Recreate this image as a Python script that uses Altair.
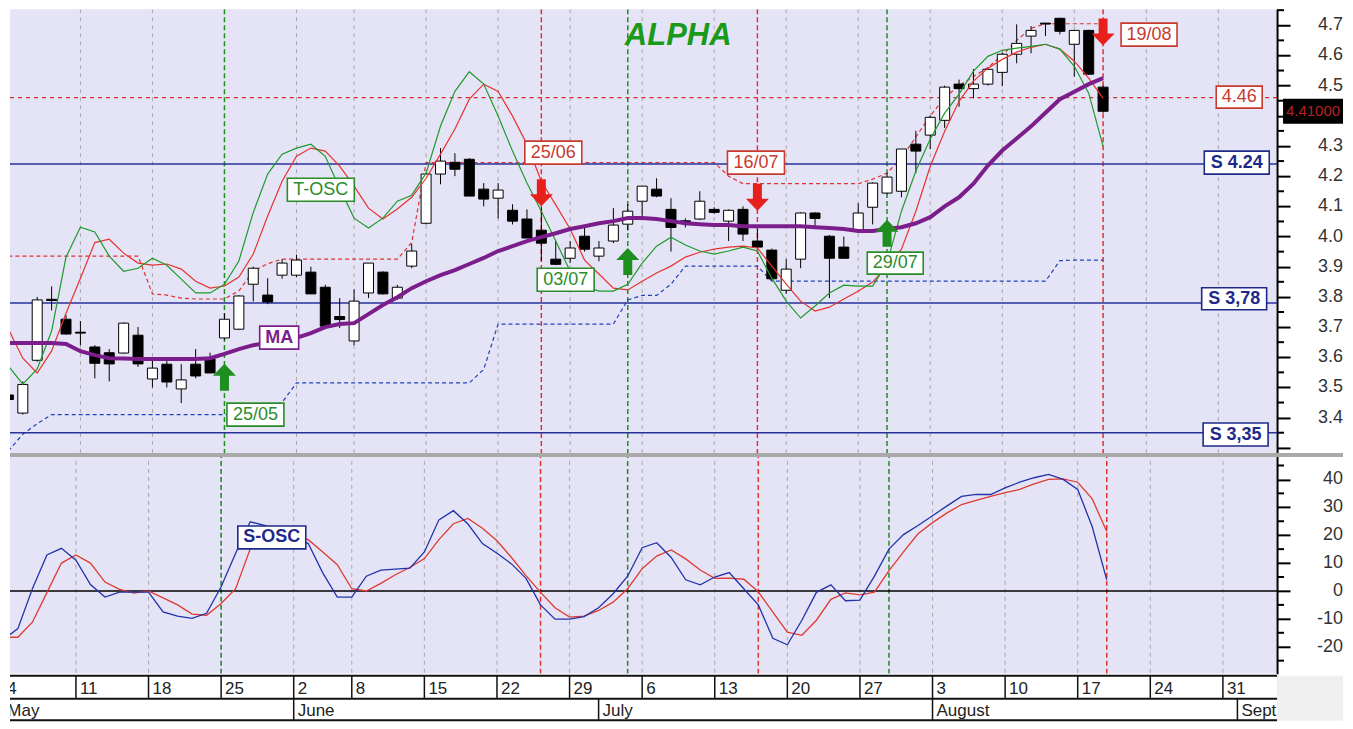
import altair as alt
import pandas as pd

# ---------------- data ----------------
# trading-day index 0 = Mon 4 May 2020
opens = [3.475, 3.415, 3.59, 3.792, 3.726, 3.683, 3.634, 3.615, 3.614, 3.673,
         3.528, 3.577, 3.495, 3.577, 3.594, 3.664, 3.693, 3.842, 3.806, 3.872,
         3.872, 3.882, 3.832, 3.735, 3.654, 3.813, 3.882, 3.796, 3.902, 4.044,
         4.207, 4.246, 4.256, 4.157, 4.127, 4.087, 4.058, 4.021, 3.925, 3.928,
         4.001, 3.935, 3.985, 4.041, 4.117, 4.157, 4.09, 4.052, 4.058, 4.09,
         4.051, 4.09, 3.985, 3.955, 3.822, 3.925, 4.078, 4.001, 3.965, 4.018,
         4.097, 4.144, 4.15, 4.306, 4.336, 4.385, 4.505, 4.49, 4.505, 4.544,
         4.604, 4.664, 4.707, 4.723, 4.637, 4.683, 4.495]
highs = [3.48, 3.52, 3.80, 3.835, 3.74, 3.72, 3.64, 3.627, 3.715, 3.70,
         3.597, 3.60, 3.577, 3.627, 3.615, 3.746, 3.805, 3.90, 3.862, 3.925,
         3.94, 3.90, 3.84, 3.796, 3.825, 3.912, 3.885, 3.84, 3.975, 4.21,
         4.293, 4.276, 4.26, 4.177, 4.177, 4.107, 4.09, 4.10, 3.985, 3.985,
         4.034, 3.985, 4.094, 4.107, 4.167, 4.193, 4.127, 4.06, 4.15, 4.097,
         4.09, 4.10, 4.025, 3.96, 3.925, 4.08, 4.08, 4.005, 4.00, 4.11,
         4.18, 4.21, 4.29, 4.35, 4.40, 4.50, 4.52, 4.555, 4.56, 4.61,
         4.703, 4.697, 4.708, 4.725, 4.685, 4.685, 4.50]
lows = [3.45, 3.41, 3.585, 3.755, 3.675, 3.64, 3.53, 3.52, 3.612, 3.568,
        3.50, 3.50, 3.448, 3.53, 3.548, 3.657, 3.69, 3.785, 3.776, 3.86,
        3.865, 3.81, 3.70, 3.697, 3.64, 3.796, 3.808, 3.79, 3.895, 4.04,
        4.173, 4.20, 4.134, 4.10, 4.06, 4.04, 3.995, 3.92, 3.905, 3.912,
        3.95, 3.918, 3.978, 4.02, 4.068, 4.13, 3.95, 4.03, 4.055, 4.075,
        3.985, 3.985, 3.96, 3.855, 3.81, 3.895, 4.025, 3.796, 3.928, 4.015,
        4.04, 4.14, 4.13, 4.21, 4.29, 4.36, 4.43, 4.458, 4.50, 4.498,
        4.574, 4.607, 4.664, 4.67, 4.53, 4.535, 4.41]
closes = [3.46, 3.51, 3.79, 3.788, 3.677, 3.68, 3.58, 3.578, 3.713, 3.578,
          3.564, 3.518, 3.525, 3.538, 3.548, 3.726, 3.803, 3.895, 3.783, 3.912,
          3.922, 3.81, 3.703, 3.725, 3.786, 3.912, 3.81, 3.832, 3.952, 4.207,
          4.25, 4.223, 4.134, 4.124, 4.154, 4.051, 3.995, 3.978, 3.908, 3.962,
          3.958, 3.962, 4.038, 4.084, 4.167, 4.134, 4.03, 4.048, 4.117, 4.08,
          4.087, 4.008, 3.965, 3.86, 3.892, 4.078, 4.06, 3.928, 3.928, 4.078,
          4.177, 4.197, 4.29, 4.283, 4.395, 4.495, 4.49, 4.505, 4.554, 4.604,
          4.64, 4.683, 4.704, 4.68, 4.683, 4.538, 4.415]
ma_line = [3.647, 3.647, 3.647, 3.647, 3.644, 3.620, 3.607, 3.597, 3.596, 3.594,
           3.594, 3.594, 3.594, 3.594, 3.597, 3.611, 3.627, 3.640, 3.647, 3.654,
           3.664, 3.680, 3.700, 3.710, 3.713, 3.743, 3.773, 3.799, 3.829, 3.852,
           3.872, 3.889, 3.909, 3.929, 3.952, 3.968, 3.985, 3.998, 4.011, 4.025,
           4.034, 4.044, 4.051, 4.061, 4.061, 4.058, 4.051, 4.044, 4.041, 4.038,
           4.038, 4.034, 4.034, 4.034, 4.034, 4.034, 4.031, 4.028, 4.025, 4.018,
           4.018, 4.025, 4.031, 4.044, 4.064, 4.100, 4.130, 4.175, 4.235, 4.285,
           4.325, 4.365, 4.410, 4.455, 4.480, 4.505, 4.525]
tosc_fast = [3.571, 3.511, 3.561, 3.687, 3.932, 4.031, 4.015, 3.935, 3.885, 3.895,
             3.928, 3.905, 3.859, 3.813, 3.813, 3.842, 3.919, 4.080, 4.207, 4.273,
             4.293, 4.306, 4.266, 4.160, 4.061, 4.028, 4.061, 4.117, 4.137, 4.210,
             4.366, 4.481, 4.546, 4.505, 4.399, 4.283, 4.177, 4.084, 3.985, 3.885,
             3.836, 3.819, 3.819, 3.842, 3.912, 3.968, 3.998, 3.972, 3.952, 3.942,
             3.952, 3.965, 3.952, 3.862, 3.786, 3.730, 3.770, 3.813, 3.839, 3.836,
             3.836, 3.912, 4.084, 4.217, 4.323, 4.409, 4.472, 4.548, 4.597, 4.617,
             4.624, 4.630, 4.637, 4.621, 4.564, 4.475, 4.299]
tosc_slow = [3.693, 3.597, 3.548, 3.621, 3.746, 3.862, 3.980, 3.991, 3.945, 3.912,
             3.905, 3.909, 3.892, 3.852, 3.829, 3.836, 3.866, 3.942, 4.068, 4.183,
             4.266, 4.293, 4.283, 4.233, 4.167, 4.094, 4.058, 4.091, 4.130, 4.193,
             4.273, 4.356, 4.455, 4.505, 4.481, 4.399, 4.306, 4.183, 4.105, 4.025,
             3.922, 3.876, 3.829, 3.823, 3.852, 3.879, 3.902, 3.932, 3.948, 3.958,
             3.965, 3.968, 3.962, 3.902, 3.842, 3.786, 3.753, 3.766, 3.793, 3.819,
             3.849, 3.902, 3.958, 4.084, 4.233, 4.349, 4.448, 4.515, 4.558, 4.587,
             4.611, 4.627, 4.637, 4.621, 4.581, 4.525, 4.458]
upper_band = [3.935, 3.935, 3.935, 3.935, 3.935, 3.935, 3.935, 3.935, 3.935, 3.935,
              3.81, 3.806, 3.796, 3.793, 3.793, 3.793, 3.82, 3.885, 3.91, 3.925,
              3.925, 3.925, 3.925, 3.925, 3.925, 3.925, 3.925, 3.925, 3.98, 4.245,
              4.245, 4.245, 4.245, 4.245, 4.245, 4.245, 4.245, 4.245, 4.245, 4.245,
              4.245, 4.245, 4.245, 4.245, 4.245, 4.245, 4.245, 4.245, 4.245, 4.245,
              4.20, 4.175, 4.175, 4.175, 4.175, 4.175, 4.175, 4.175, 4.175, 4.175,
              4.19, 4.21, 4.26, 4.33, 4.40, 4.46, 4.50, 4.53, 4.56, 4.60,
              4.65, 4.69, 4.705, 4.705, 4.705, 4.705, 4.705]
lower_band = [3.29, 3.345, 3.38, 3.41, 3.41, 3.41, 3.41, 3.41, 3.41, 3.41,
              3.41, 3.41, 3.41, 3.41, 3.41, 3.41, 3.41, 3.41, 3.41, 3.45,
              3.515, 3.515, 3.515, 3.515, 3.515, 3.515, 3.515, 3.515, 3.515, 3.515,
              3.515, 3.515, 3.515, 3.56, 3.71, 3.71, 3.71, 3.71, 3.71, 3.71,
              3.71, 3.71, 3.71, 3.79, 3.805, 3.805, 3.842, 3.902, 3.902, 3.902,
              3.902, 3.902, 3.902, 3.852, 3.852, 3.852, 3.852, 3.852, 3.852, 3.852,
              3.852, 3.852, 3.852, 3.852, 3.852, 3.852, 3.852, 3.852, 3.852, 3.852,
              3.852, 3.852, 3.852, 3.92, 3.922, 3.922, 3.922]
sosc_fast = [-17.5, -13.5, 0.8, 12.9, 15.3, 11.0, 2.3, -2.2, -0.4, -0.4,
             -0.4, -7.5, -9.0, -9.8, -8.0, 1.5, 13.5, 24.8, 23.5, 21.5,
             19.5, 17.0, 6.5, -2.2, -2.2, 5.3, 7.5, 7.8, 8.2, 14.0,
             25.5, 28.8, 24.0, 17.0, 13.5, 9.7, 4.5, -5.0, -10.1, -10.1,
             -9.2, -6.0, -1.0, 5.3, 15.5, 17.3, 12.0, 4.0, 2.2, 5.0,
             6.6, 0.8, -5.0, -17.0, -19.3, -10.5, -0.5, 2.2, -3.5, -3.3,
             5.3, 15.0, 20.2, 23.5, 27.0, 30.5, 33.9, 34.6, 34.6, 37.0,
             39.0, 40.6, 41.8, 40.0, 36.4, 23.0, 4.0]
sosc_slow = [-16.6, -16.6, -11.2, -0.6, 10.0, 12.9, 10.0, 3.2, 0.6, -0.8,
             0.0, -2.5, -5.0, -8.3, -8.7, -4.5, 0.8, 15.0, 21.0, 21.5,
             20.0, 18.4, 14.0, 9.4, 0.8, 0.0, 2.7, 5.8, 8.4, 11.6,
             18.4, 24.1, 26.0, 22.5, 18.0, 12.0, 5.5, -0.5, -6.0, -9.4,
             -9.0, -7.0, -4.0, 0.8, 8.0, 12.5, 14.7, 11.5, 7.5, 4.5,
             4.6, 4.2, -0.3, -7.6, -14.8, -15.9, -10.5, -3.0, -0.7, -1.4,
             -0.4, 7.3, 14.0, 20.5, 24.5, 28.0, 31.0, 32.5, 33.9, 35.3,
             36.4, 38.4, 40.0, 40.2, 39.0, 33.0, 21.3]

support_levels = [4.24, 3.78, 3.35]
target_levels = [4.46]
buy_days = [15, 43, 61]
sell_days = [37, 52, 76]
last_price = 4.41

week_idx = [0, 5, 10, 15, 20, 24, 29, 34, 39, 44, 49, 54, 59, 64, 69, 74, 79, 84]
week_labels = ["4", "11", "18", "25", "2", "8", "15", "22", "29", "6", "13", "20",
               "27", "3", "10", "17", "24", "31"]
month_idx = [0, 20, 41, 64, 85]
month_labels = ["May", "June", "July", "August", "Sept"]

price_ticks = [3.3, 3.4, 3.5, 3.6, 3.7, 3.8, 3.9, 4.0, 4.1, 4.2, 4.3, 4.4, 4.5, 4.6, 4.7]
price_minor = [3.35, 3.45, 3.55, 3.65, 3.75, 3.85, 3.95, 4.05, 4.15, 4.25, 4.35,
               4.45, 4.55, 4.65, 4.75]
# 4.4 is hidden behind the last-price tag in the reference
price_label_vals = [3.4, 3.5, 3.6, 3.7, 3.8, 3.9, 4.0, 4.1, 4.2, 4.3, 4.5, 4.6, 4.7]
price_label_text = ["3.4", "3.5", "3.6", "3.7", "3.8", "3.9", "4.0", "4.1", "4.2", "4.3",
                    "4.5", "4.6", "4.7"]
osc_ticks = [-20, -10, 0, 10, 20, 30, 40]
osc_minor = [-25, -15, -5, 5, 15, 25, 35, 45]
osc_label_text = ["-20", "-10", "0", "10", "20", "30", "40"]

box_labels = ["25/06", "16/07", "19/08", "4.46", "03/07", "29/07", "25/05",
              "T-OSC", "MA", "S 4.24", "S 3,78", "S 3,35"]
box_i = [37.83, 51.9, 79.19, 85.45, 38.69, 61.57, 17.15, 21.69, 18.8, 85.28, 85.1, 85.2]
box_p = [4.278, 4.245, 4.669, 4.462, 3.857, 3.912, 3.410, 4.155, 3.665, 4.245, 3.794, 3.344]

arrow_i = [37, 52, 76, 15, 43, 61]
arrow_p = [4.145, 4.13, 4.678, 3.534, 3.917, 4.011]
arrow_dir = ["down", "down", "down", "up", "up", "up"]

osc_box_labels = ["S-OSC"]
osc_box_i = [18.49]
osc_box_v = [19.2]

title_text = "ALPHA"
title_i = 46.5
title_p = 4.664

# ---------------- styles / layout ----------------
W, H1, H2, H3, AX = 1268, 444, 221, 48, 66
XDOM = [0.458, 87.73]
PDOM = [3.283, 4.753]
ODOM = [-29.7, 49.5]
BG = "#E4E4F6"
FONT = "Liberation Sans"
RED = "#C8392F"
GREEN = "#2A8C2A"
NAVY = "#1E2A8A"
PURPLE = "#7B1E8C"

box_w = [57, 57, 56, 46, 57, 56, 57, 67, 39, 65, 65, 65]
box_h = [23, 23, 23, 22, 23, 22, 23, 23, 23, 23, 22, 23]
box_col = [RED, RED, RED, RED, GREEN, GREEN, GREEN, GREEN, PURPLE, NAVY, NAVY, NAVY]
box_bold = [False] * 8 + [True] * 4


def rect_path(w, h):
    a, b = w / 2, h / 2
    return f"M{-a},{-b}L{a},{-b}L{a},{b}L{-a},{b}Z"


DOWN = "M-4.5,-13.5L4.5,-13.5L4.5,1.5L11.5,1.5L0,13.5L-11.5,1.5L-4.5,1.5Z"
UP = "M-4.5,13.5L4.5,13.5L4.5,-1.5L11.5,-1.5L0,-13.5L-11.5,-1.5L-4.5,-1.5Z"

n = len(opens)
df = pd.DataFrame(dict(i=list(range(n)), o=opens, h=highs, l=lows, c=closes,
                       ma=ma_line, g=tosc_fast, r=tosc_slow, up=upper_band,
                       lo=lower_band, sb=sosc_fast, sr=sosc_slow))
df["fill"] = ["white" if c > o else "black" for o, c in zip(opens, closes)]

boxes = pd.DataFrame(dict(label=box_labels, i=box_i, p=box_p, col=box_col, bold=box_bold,
                          path=[rect_path(w, h) for w, h in zip(box_w, box_h)]))
arrows = pd.DataFrame(dict(i=arrow_i, p=arrow_p,
                           path=[DOWN if d == "down" else UP for d in arrow_dir],
                           col=["#E8201C" if d == "down" else "#1E8E1E" for d in arrow_dir]))
weeks = pd.DataFrame(dict(i=week_idx, d=week_labels))
months = pd.DataFrame(dict(i=month_idx, m=month_labels))
buys = pd.DataFrame(dict(i=buy_days))
sells = pd.DataFrame(dict(i=sell_days))
sup = pd.DataFrame(dict(v=support_levels))
tgt = pd.DataFrame(dict(v=target_levels))
pminor = pd.DataFrame(dict(v=price_minor))
ominor = pd.DataFrame(dict(v=osc_minor))
plabels = pd.DataFrame(dict(v=price_label_vals, t=price_label_text))
olabels = pd.DataFrame(dict(v=osc_ticks, t=osc_label_text))
tag = pd.DataFrame(dict(v=[closes[-1]], t=[f"{last_price:.5f}"]))
title_df = pd.DataFrame(dict(i=[title_i], p=[title_p], t=[title_text]))
osc_boxes = pd.DataFrame(dict(label=osc_box_labels, i=osc_box_i, v=osc_box_v,
                              path=[rect_path(68, 23)]))
zero = pd.DataFrame(dict(v=[0]))
one = pd.DataFrame(dict(k=[0]))

xs = alt.Scale(domain=XDOM, nice=False, zero=False)
ps = alt.Scale(domain=PDOM, nice=False, zero=False)
oscale = alt.Scale(domain=ODOM, nice=False, zero=False)

common_axis = dict(orient="right", title=None, grid=False, labels=False, tickSize=13,
                   tickWidth=2, tickColor="black", domainColor="black", domainWidth=2)
PAX = alt.Axis(values=price_ticks, **common_axis)
OAX = alt.Axis(values=osc_ticks, **common_axis)


def X(f="i"):
    return alt.X(f"{f}:Q", scale=xs, axis=None)


def PY(f):
    return alt.Y(f"{f}:Q", scale=ps, axis=PAX)


def OY(f):
    return alt.Y(f"{f}:Q", scale=oscale, axis=OAX)


grid_p = alt.Chart(weeks).mark_rule(color="#A8A8A8", strokeDash=[4, 4], strokeWidth=1,
                                    clip=True).encode(x=X())
buy_v = alt.Chart(buys).mark_rule(color="#1E8E1E", strokeDash=[5, 3], strokeWidth=1.5,
                                  clip=True).encode(x=X())
sell_v = alt.Chart(sells).mark_rule(color="#E03030", strokeDash=[5, 3], strokeWidth=1.5,
                                    clip=True).encode(x=X())

upper = alt.Chart(df).mark_line(color="#E03030", strokeDash=[4, 3], strokeWidth=1.2,
                                clip=True).encode(x=X(), y=PY("up"))
lower = alt.Chart(df).mark_line(color="#2040C0", strokeDash=[4, 3], strokeWidth=1.2,
                                clip=True).encode(x=X(), y=PY("lo"))
sup_l = alt.Chart(sup).mark_rule(color="#28309A", strokeWidth=1.5, clip=True).encode(y=PY("v"))
tgt_l = alt.Chart(tgt).mark_rule(color="#D03030", strokeDash=[4, 4], strokeWidth=1.2,
                                 clip=True).encode(y=PY("v"))

wicks = alt.Chart(df).mark_rule(color="black", strokeWidth=1, clip=True).encode(
    x=X(), y=PY("l"), y2=alt.Y2("h"))
bodies = alt.Chart(df).mark_bar(size=10, stroke="black", strokeWidth=1, clip=True).encode(
    x=X(), y=PY("o"), y2=alt.Y2("c"), fill=alt.Fill("fill:N", scale=None))

slow = alt.Chart(df).mark_line(color="#E8322E", strokeWidth=1.2, clip=True).encode(x=X(), y=PY("r"))
fast = alt.Chart(df).mark_line(color="#1F9A2A", strokeWidth=1.2, clip=True).encode(x=X(), y=PY("g"))
ma = alt.Chart(df).mark_line(color=PURPLE, strokeWidth=4, clip=True).encode(x=X(), y=PY("ma"))

arr = alt.Chart(arrows).mark_point(size=4, filled=True, opacity=1, strokeWidth=0, clip=True).encode(
    x=X(), y=PY("p"), shape=alt.Shape("path:N", scale=None), fill=alt.Fill("col:N", scale=None))

box_m = alt.Chart(boxes).mark_point(size=4, filled=True, fill="white", opacity=1,
                                     fillOpacity=1, strokeWidth=1.6, clip=True).encode(
    x=X(), y=PY("p"), shape=alt.Shape("path:N", scale=None), stroke=alt.Stroke("col:N", scale=None))
box_t = alt.Chart(boxes[~boxes.bold]).mark_text(font=FONT, fontSize=18, baseline="middle",
                                                 align="center").encode(
    x=X(), y=PY("p"), text="label:N", color=alt.Color("col:N", scale=None))
box_tb = alt.Chart(boxes[boxes.bold]).mark_text(font=FONT, fontSize=18, fontWeight="bold",
                                                 baseline="middle", align="center").encode(
    x=X(), y=PY("p"), text="label:N", color=alt.Color("col:N", scale=None))

title_m = alt.Chart(title_df).mark_text(font=FONT, fontSize=31, fontWeight="bold", fontStyle="italic",
                                        color="#1A9A1A", baseline="middle", align="center").encode(
    x=X(), y=PY("p"), text="t:N")

pmin = alt.Chart(pminor).mark_rule(color="black", strokeWidth=2).encode(
    y=PY("v"), x=alt.value(W), x2=alt.value(W + 7))
plab = alt.Chart(plabels).mark_text(font=FONT, fontSize=18, color="#333333", align="right",
                                    baseline="middle").encode(
    x=alt.value(W + AX), y=PY("v"), text="t:N")
tag_box = alt.Chart(tag).mark_point(size=4, filled=True, fill="black", opacity=1,
                                    shape=rect_path(60, 25)).encode(x=alt.value(W + 36), y=PY("v"))
tag_txt = alt.Chart(tag).mark_text(font=FONT, fontSize=15, color="#B82020", baseline="middle",
                                   align="center").encode(x=alt.value(W + 36), y=PY("v"), text="t:N")

price = alt.layer(grid_p, buy_v, sell_v, upper, lower, sup_l, tgt_l, wicks, bodies, slow, fast, ma,
                  arr, box_m, box_t, box_tb, title_m, pmin, plab, tag_box, tag_txt).properties(
    width=W, height=H1, view=alt.ViewBackground(fill=BG, stroke=None))

# ---------------- oscillator panel ----------------
zero_l = alt.Chart(zero).mark_rule(color="black", strokeWidth=1.5, clip=True).encode(y=OY("v"))
sbl = alt.Chart(df).mark_line(color="#2233AA", strokeWidth=1.3, clip=True).encode(x=X(), y=OY("sb"))
srl = alt.Chart(df).mark_line(color="#E03A30", strokeWidth=1.3, clip=True).encode(x=X(), y=OY("sr"))
obox = alt.Chart(osc_boxes).mark_point(size=4, filled=True, fill="white", opacity=1, stroke=NAVY,
                                       strokeWidth=1.6, clip=True).encode(
    x=X(), y=OY("v"), shape=alt.Shape("path:N", scale=None))
otxt = alt.Chart(osc_boxes).mark_text(font=FONT, fontSize=18, fontWeight="bold", color=NAVY,
                                      baseline="middle", align="center").encode(
    x=X(), y=OY("v"), text="label:N")
omin = alt.Chart(ominor).mark_rule(color="black", strokeWidth=2).encode(
    y=OY("v"), x=alt.value(W), x2=alt.value(W + 7))
olab = alt.Chart(olabels).mark_text(font=FONT, fontSize=18, color="#333333", align="right",
                                    baseline="middle").encode(
    x=alt.value(W + AX), y=OY("v"), text="t:N")
sep = alt.Chart(one).mark_rule(color="#A9A9A9", strokeWidth=4).encode(
    x=alt.value(0), x2=alt.value(W + AX), y=alt.value(2))

osc = alt.layer(grid_p, buy_v, sell_v, zero_l, srl, sbl, obox, otxt, omin, olab, sep).properties(
    width=W, height=H2, view=alt.ViewBackground(fill=BG, stroke=None))

# ---------------- date panel ----------------
grey_r = alt.Chart(one).mark_rect(color="#EFEFEF").encode(
    x=alt.value(W), x2=alt.value(W + AX), y=alt.value(2), y2=alt.value(47))
hl = alt.Chart(pd.DataFrame(dict(y=[2, 25, 46.5]))).mark_rule(color="#111111", strokeWidth=2).encode(
    x=alt.value(0), x2=alt.value(W),
    y=alt.Y("y:Q", scale=alt.Scale(domain=[0, H3], range=[0, H3]), axis=None))
dsep = alt.Chart(weeks).mark_rule(color="#111111", strokeWidth=1.5, clip=True).encode(
    x=X(), y=alt.value(2), y2=alt.value(25))
msep = alt.Chart(months).mark_rule(color="#111111", strokeWidth=1.5, clip=True).encode(
    x=X(), y=alt.value(25), y2=alt.value(46.5))
dtxt = alt.Chart(weeks).mark_text(font=FONT, fontSize=17, color="#222222", align="left",
                                  baseline="middle", dx=4, clip=True).encode(
    x=X(), y=alt.value(15), text="d:N")
mtxt = alt.Chart(months).mark_text(font=FONT, fontSize=17, color="#222222", align="left",
                                   baseline="middle", dx=4, clip=True).encode(
    x=X(), y=alt.value(37), text="m:N")

dates = alt.layer(grey_r, hl, dsep, msep, dtxt, mtxt).properties(
    width=W, height=H3, view=alt.ViewBackground(fill="white", stroke=None))

chart = alt.vconcat(price, osc, dates, spacing=0, bounds="flush").properties(
    padding=0, background="white")

chart.save("out.html", embed_options={"renderer": "svg", "actions": False})
